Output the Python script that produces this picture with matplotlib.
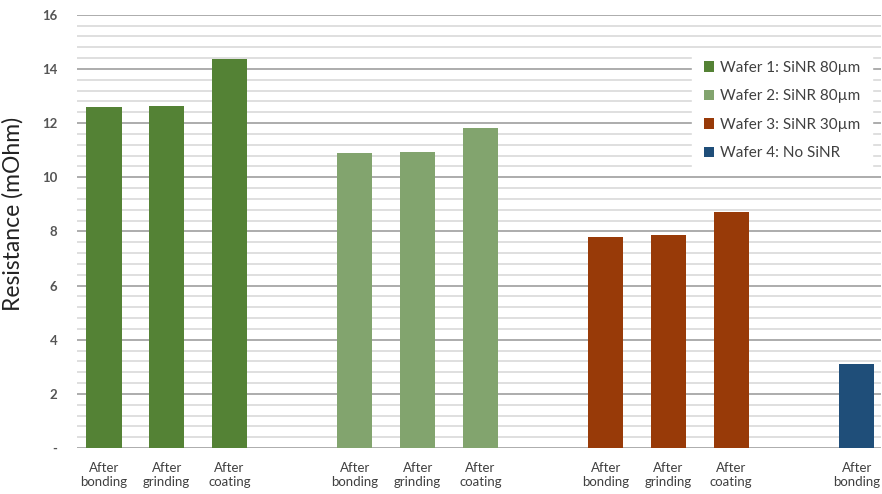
import matplotlib.pyplot as plt
from matplotlib.ticker import MultipleLocator
from matplotlib.patches import Patch

# bar values (mOhm)
wafer1 = [12.6, 12.65, 14.35]
wafer2 = [10.9, 10.95, 11.83]
wafer3 = [7.8, 7.87, 8.73]
wafer4 = [3.1]
steps = ["After\nbonding", "After\ngrinding", "After\ncoating"]
names = ["Wafer 1: SiNR 80\u00b5m", "Wafer 2: SiNR 80\u00b5m",
         "Wafer 3: SiNR 30\u00b5m", "Wafer 4: No SiNR"]
colors = ["#548235", "#82a46e", "#983a08", "#1f4e79"]

plt.rcParams['font.family'] = ['Lato', 'DejaVu Sans']

fig = plt.figure(figsize=(8.82, 4.94), dpi=100)
ax = fig.add_axes([0.0873, 0.093, 0.911, 0.877])

groups = [wafer1, wafer2, wafer3, wafer4]
xticks = []
xlabels = []
for g, vals in enumerate(groups):
    xs = [g * 4 + i for i in range(len(vals))]
    ax.bar(xs, vals, width=0.56, color=colors[g], zorder=3)
    xticks += xs
    xlabels += steps[:len(vals)]

ax.set_xlim(-0.43, 12.38)
ax.set_ylim(0, 16)
ax.yaxis.set_minor_locator(MultipleLocator(0.4))
ax.set_yticks(range(0, 17, 2))
ax.set_yticklabels(["-"] + [str(v) for v in range(2, 17, 2)])
ax.grid(axis='y', which='major', color='#a6a6a6', linewidth=1.3, zorder=0)
ax.grid(axis='y', which='minor', color='#dcdcdc', linewidth=1.3, zorder=0)
ax.set_xticks(xticks)
ax.set_xticklabels(xlabels, fontsize=9.5, color='#404040')
ax.tick_params(axis='both', which='both', length=0)
ax.tick_params(axis='y', pad=14, labelsize=9.5, labelcolor='#555555')
ax.tick_params(axis='x', pad=10)
for lbl in ax.get_yticklabels():
    lbl.set_fontweight('bold')
for s in ax.spines.values():
    s.set_visible(False)
ax.set_ylabel("Resistance (mOhm)", fontsize=16.5, color='#222222')
ax.yaxis.set_label_coords(-0.066, 0.54)

handles = [Patch(facecolor=c) for c in colors]
leg = ax.legend(handles, names, loc='upper right', bbox_to_anchor=(0.99, 0.922),
                frameon=True, fancybox=False, edgecolor='white', framealpha=1,
                fontsize=11, handlelength=0.65, handleheight=0.65, labelspacing=0.95,
                borderpad=0.8, handletextpad=0.4, borderaxespad=0)
for t in leg.get_texts():
    t.set_color('#404040')

fig.savefig("out.png", dpi=100)
